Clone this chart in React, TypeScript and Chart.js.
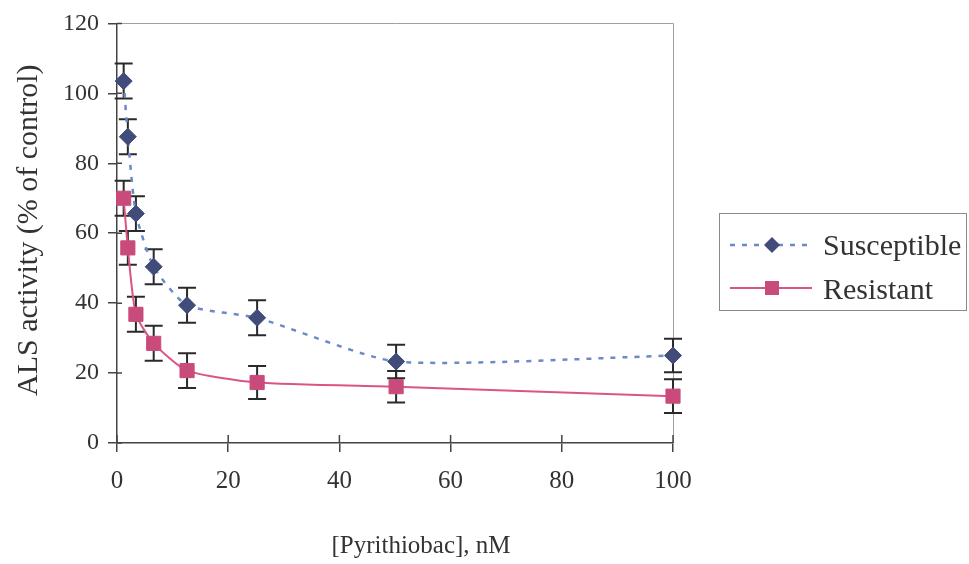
import React, { useEffect, useRef } from 'react';
import { Chart, registerables } from 'chart.js';

Chart.register(...registerables);

// ---- data ----
const concentrations = [1.2, 1.95, 3.4, 6.6, 12.6, 25.2, 50.2, 100];
const susceptibleValues = [103.5, 87.6, 65.6, 50.4, 39.4, 35.8, 23.3, 25.0];
const susceptibleErrors = [5, 5, 5, 5, 5, 5, 4.8, 4.8];
const resistantValues = [70.0, 55.8, 36.8, 28.5, 20.7, 17.3, 16.1, 13.4];
const resistantErrors = [5, 4.8, 5, 5, 5, 4.7, 4.5, 4.8];
const xTickValues = [0, 20, 40, 60, 80, 100];
const yTickValues = [0, 20, 40, 60, 80, 100, 120];
const seriesLabels = ['Susceptible', 'Resistant'];
const xTitle = '[Pyrithiobac], nM';
const yTitle = 'ALS activity (% of control)';

const FONT = '"Liberation Serif", "Times New Roman", serif';
const TEXT = '#333333';
const AXIS = '#444444';
const S_LINE = '#6c8bc6';
const S_MARK = '#414c7b';
const R_LINE = '#dc5486';
const R_MARK = '#c94b7c';

const decorPlugin = {
  id: 'decor',
  beforeDatasetsDraw(chart: any) {
    const { ctx, chartArea, scales } = chart;
    const x = scales.x;
    const y = scales.y;
    ctx.save();
    // plot area border (top & right)
    ctx.strokeStyle = '#a0a0a0';
    ctx.lineWidth = 1;
    ctx.beginPath();
    ctx.moveTo(chartArea.left, Math.round(chartArea.top) + 0.5);
    ctx.lineTo(Math.round(chartArea.right) + 0.5, Math.round(chartArea.top) + 0.5);
    ctx.lineTo(Math.round(chartArea.right) + 0.5, chartArea.bottom);
    ctx.stroke();
    // inward tick extensions
    ctx.strokeStyle = AXIS;
    ctx.lineWidth = 1.5;
    ctx.beginPath();
    xTickValues.forEach((v) => {
      const px = x.getPixelForValue(v);
      ctx.moveTo(px, chartArea.bottom);
      ctx.lineTo(px, chartArea.bottom - 8);
    });
    yTickValues.forEach((v) => {
      const py = y.getPixelForValue(v);
      ctx.moveTo(chartArea.left, py);
      ctx.lineTo(chartArea.left + 5, py);
    });
    ctx.stroke();
    // error bars
    const drawErr = (vals: number[], errs: number[]) => {
      ctx.strokeStyle = '#2a2a2a';
      ctx.lineWidth = 2;
      ctx.beginPath();
      concentrations.forEach((c, i) => {
        const px = x.getPixelForValue(c);
        const top = y.getPixelForValue(vals[i] + errs[i]);
        const bot = y.getPixelForValue(vals[i] - errs[i]);
        ctx.moveTo(px, top);
        ctx.lineTo(px, bot);
        ctx.moveTo(px - 9, top);
        ctx.lineTo(px + 9, top);
        ctx.moveTo(px - 9, bot);
        ctx.lineTo(px + 9, bot);
      });
      ctx.stroke();
    };
    drawErr(susceptibleValues, susceptibleErrors);
    drawErr(resistantValues, resistantErrors);
    ctx.restore();
  },
  afterDraw(chart: any) {
    const { ctx, chartArea } = chart;
    ctx.save();
    ctx.fillStyle = TEXT;
    // x title
    ctx.font = `25px ${FONT}`;
    ctx.textAlign = 'center';
    ctx.textBaseline = 'alphabetic';
    ctx.fillText(xTitle, 421, 553);
    // y title
    ctx.save();
    ctx.translate(37, (chartArea.top + chartArea.bottom) / 2 - 3);
    ctx.rotate(-Math.PI / 2);
    ctx.font = `30px ${FONT}`;
    ctx.textAlign = 'center';
    ctx.textBaseline = 'alphabetic';
    ctx.fillText(yTitle, 0, 0);
    ctx.restore();
    // legend
    const bx = 719.5, by = 213.5, bw = 247, bh = 97;
    ctx.strokeStyle = '#8a8a8a';
    ctx.lineWidth = 1;
    ctx.strokeRect(bx, by, bw, bh);
    const rows = [245, 288];
    // susceptible sample
    ctx.strokeStyle = S_LINE;
    ctx.lineWidth = 2.5;
    ctx.setLineDash([5, 7]);
    ctx.beginPath();
    ctx.moveTo(730, rows[0]);
    ctx.lineTo(812, rows[0]);
    ctx.stroke();
    ctx.setLineDash([]);
    ctx.fillStyle = S_MARK;
    ctx.beginPath();
    ctx.moveTo(772 - 8, rows[0]);
    ctx.lineTo(772, rows[0] - 8);
    ctx.lineTo(772 + 8, rows[0]);
    ctx.lineTo(772, rows[0] + 8);
    ctx.closePath();
    ctx.fill();
    // resistant sample
    ctx.strokeStyle = R_LINE;
    ctx.lineWidth = 2;
    ctx.beginPath();
    ctx.moveTo(730, rows[1]);
    ctx.lineTo(812, rows[1]);
    ctx.stroke();
    ctx.fillStyle = R_MARK;
    ctx.fillRect(772 - 7, rows[1] - 7, 14, 14);
    // labels
    ctx.fillStyle = TEXT;
    ctx.font = `30px ${FONT}`;
    ctx.textAlign = 'left';
    ctx.textBaseline = 'alphabetic';
    ctx.fillText(seriesLabels[0], 823, rows[0] + 10);
    ctx.fillText(seriesLabels[1], 823, rows[1] + 11);
    ctx.restore();
  },
};

export default function App() {
  const canvasRef = useRef<HTMLCanvasElement | null>(null);

  useEffect(() => {
    if (!canvasRef.current) return;
    const chart = new Chart(canvasRef.current, {
      type: 'line',
      data: {
        datasets: [
          {
            label: seriesLabels[0],
            data: concentrations.map((c, i) => ({ x: c, y: susceptibleValues[i] })),
            borderColor: S_LINE,
            borderWidth: 2.5,
            borderDash: [5, 7],
            pointStyle: 'rectRot',
            pointRadius: 8.5,
            pointBackgroundColor: S_MARK,
            pointBorderColor: S_MARK,
            pointBorderWidth: 1,
            tension: 0.2,
            fill: false,
            clip: false,
          } as any,
          {
            label: seriesLabels[1],
            data: concentrations.map((c, i) => ({ x: c, y: resistantValues[i] })),
            borderColor: R_LINE,
            borderWidth: 2,
            pointStyle: 'rect',
            pointRadius: 10,
            pointBackgroundColor: R_MARK,
            pointBorderColor: R_MARK,
            pointBorderWidth: 1,
            tension: 0.2,
            fill: false,
            clip: false,
          } as any,
        ],
      },
      options: {
        animation: false,
        responsive: false,
        events: [],
        layout: { padding: { left: 0, top: 20, right: 296, bottom: 0 } },
        plugins: {
          legend: { display: false },
          tooltip: { enabled: false },
        },
        scales: {
          x: {
            type: 'linear',
            min: 0,
            max: 100,
            afterBuildTicks: (s: any) => {
              s.ticks = xTickValues.map((v) => ({ value: v }));
            },
            afterFit: (s: any) => {
              s.height = 121;
            },
            ticks: {
              color: TEXT,
              font: { family: FONT, size: 25 },
              padding: 14,
              maxRotation: 0,
              autoSkip: false,
            },
            grid: {
              display: true,
              drawOnChartArea: false,
              drawTicks: true,
              tickLength: 9,
              color: AXIS,
              lineWidth: 1.5,
            },
            border: { display: true, color: AXIS, width: 1.5 },
          },
          y: {
            type: 'linear',
            min: 0,
            max: 120,
            afterBuildTicks: (s: any) => {
              s.ticks = yTickValues.map((v) => ({ value: v }));
            },
            afterFit: (s: any) => {
              s.width = 117;
            },
            ticks: {
              color: TEXT,
              font: { family: FONT, size: 24 },
              padding: 9,
              autoSkip: false,
            },
            grid: {
              display: true,
              drawOnChartArea: false,
              drawTicks: true,
              tickLength: 9,
              color: AXIS,
              lineWidth: 1.5,
            },
            border: { display: true, color: AXIS, width: 1.5 },
          },
        },
      } as any,
      plugins: [decorPlugin],
    });
    return () => chart.destroy();
  }, []);

  return (
    <div style={{ position: 'absolute', left: 0, top: 0, width: 969, height: 564, background: '#ffffff' }}>
      <canvas ref={canvasRef} width={969} height={564} style={{ display: 'block' }} />
    </div>
  );
}
